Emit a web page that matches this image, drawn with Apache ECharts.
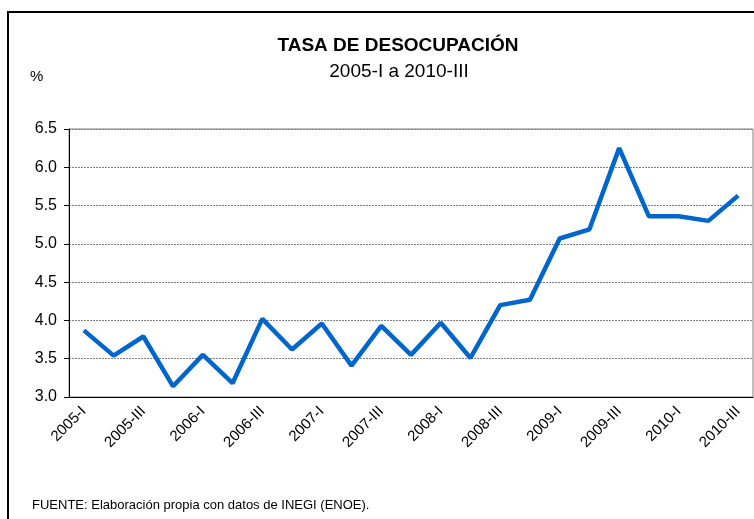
<!DOCTYPE html>
<html>
<head>
<meta charset="utf-8">
<script src="https://cdn.jsdelivr.net/npm/echarts@6/dist/echarts.min.js"></script>
<style>
  html, body { margin: 0; padding: 0; background: #fff; }
  #main { width: 754px; height: 519px; }
</style>
</head>
<body>
<div id="main"></div>
<script>
// trimestres 2005-I a 2010-III
const quarters = [
  '2005-I', '2005-II', '2005-III', '2005-IV',
  '2006-I', '2006-II', '2006-III', '2006-IV',
  '2007-I', '2007-II', '2007-III', '2007-IV',
  '2008-I', '2008-II', '2008-III', '2008-IV',
  '2009-I', '2009-II', '2009-III', '2009-IV',
  '2010-I', '2010-II', '2010-III'
]
// tasa de desocupacion (%)
const tasa = [
  3.87, 3.54, 3.79, 3.14,
  3.55, 3.18, 4.02, 3.62,
  3.96, 3.41, 3.93, 3.55,
  3.97, 3.51, 4.20, 4.27,
  5.07, 5.19, 6.25, 5.36,
  5.36, 5.30, 5.63
]
const yTicks = [3.0, 3.5, 4.0, 4.5, 5.0, 5.5, 6.0, 6.5]

let myChart = echarts.init(document.getElementById('main'))
let font = 'Liberation Sans, Arial, sans-serif'
let option = {
  animation: false,
  textStyle: { fontFamily: font },
  title: [
    {
      text: 'TASA DE DESOCUPACIÓN',
      left: 393, top: 31, textAlign: 'center',
      textStyle: { fontSize: 19, fontWeight: 'bold', color: '#000', fontFamily: font }
    },
    {
      text: '2005-I a 2010-III',
      left: 394, top: 57, textAlign: 'center',
      textStyle: { fontSize: 19, fontWeight: 'normal', color: '#000', fontFamily: font }
    },
    {
      text: '%',
      left: 25, top: 64,
      textStyle: { fontSize: 15, fontWeight: 'normal', color: '#000', fontFamily: font }
    },
    {
      text: 'FUENTE: Elaboración propia con datos de INEGI (ENOE).',
      left: 27, top: 494,
      textStyle: { fontSize: 13, fontWeight: 'normal', color: '#000', fontFamily: font }
    }
  ],
  graphic: [{
    type: 'rect',
    shape: { x: 8, y: 12, width: 760, height: 520 },
    style: { fill: 'none', stroke: '#000', lineWidth: 2 },
    silent: true
  }],
  grid: {
    left: 69, right: 1, top: 129, bottom: 122,
    show: true, borderColor: '#808080', borderWidth: 1
  },
  xAxis: {
    type: 'category',
    data: quarters,
    boundaryGap: true,
    axisLine: { lineStyle: { color: '#000', width: 1 } },
    axisTick: { interval: 0, length: 5, lineStyle: { color: '#000' } },
    axisLabel: {
      interval: 1, rotate: 45, fontSize: 15, color: '#000', margin: 12
    },
    splitLine: { show: false }
  },
  yAxis: {
    type: 'value',
    min: yTicks[0], max: yTicks[yTicks.length - 1], interval: 0.5,
    axisLine: { show: true, lineStyle: { color: '#000', width: 1 } },
    axisTick: { show: true, length: 5, lineStyle: { color: '#000' } },
    axisLabel: { fontSize: 16, color: '#000', margin: 12, formatter: v => v.toFixed(1) },
    splitLine: { lineStyle: { color: '#808080', type: [2, 1], width: 1 } }
  },
  series: [{
    name: 'Tasa',
    type: 'line',
    data: tasa,
    symbol: 'none',
    lineStyle: { color: '#0066CC', width: 4.5 },
    itemStyle: { color: '#0066CC' }
  }]
}
myChart.setOption(option)
</script>
</body>
</html>
